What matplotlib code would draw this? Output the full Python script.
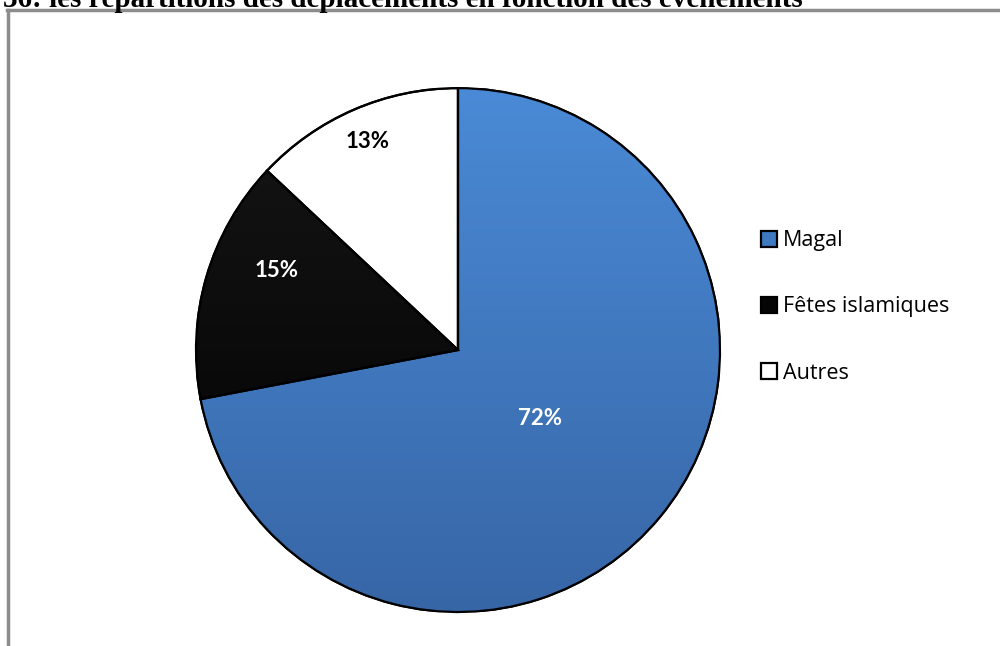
import matplotlib.pyplot as plt
import matplotlib.colors as mcolors
import numpy as np

# data
categories = ['Magal', 'Fêtes islamiques', 'Autres']
values = [72, 15, 13]
slice_colors = ['#3f79c2', '#050505', '#ffffff']
label_colors = ['white', 'white', 'black']
# label positions in pie units (radius 1)
label_xy = [(0.313, -0.26), (-0.691, 0.305), (-0.344, 0.798)]
title = '36: les répartitions des déplacements en fonction des événements'

fig = plt.figure(figsize=(10, 6.46), dpi=100)

# title, partly cut off at the top
fig.text(0.803, 0.989, title, fontsize=21, fontweight='bold',
         family='Liberation Serif', va='baseline', ha='right')

# grey frame of the original document box
fig.add_artist(plt.Line2D([0.0075, 0.0075], [0.0, 0.9845], color='#8c8c8c', lw=2.5))
fig.add_artist(plt.Line2D([0.0065, 1.0], [0.9845, 0.9845], color='#8c8c8c', lw=2.5))

ax = fig.add_axes([0.196, 0.0526, 0.524, 0.811])
wedges, _ = ax.pie(values, startangle=90, counterclock=False, colors=slice_colors,
                   wedgeprops=dict(edgecolor='black', linewidth=1.6))

# soft vertical gradient on the blue and black slices
grad = np.linspace(0, 1, 256).reshape(-1, 1)
blue_cmap = mcolors.LinearSegmentedColormap.from_list('b', ['#4a8ad6', '#3766a6'])
black_cmap = mcolors.LinearSegmentedColormap.from_list('k', ['#161616', '#000000'])
for w, cm in [(wedges[0], blue_cmap), (wedges[1], black_cmap)]:
    im = ax.imshow(grad, cmap=cm, extent=[-1, 1, -1, 1], origin='upper',
                   aspect='auto', zorder=w.get_zorder() + 0.1)
    im.set_clip_path(w)
for w in wedges:
    ax.add_patch(plt.matplotlib.patches.PathPatch(w.get_path(), transform=w.get_transform(),
                                                  fill=False, edgecolor='black', linewidth=1.6,
                                                  zorder=w.get_zorder() + 0.2))
ax.set_xlim(-1.0, 1.0)
ax.set_ylim(-1.0, 1.0)
ax.axis('off')

# percentage labels
for v, c, (x, y) in zip(values, label_colors, label_xy):
    ax.text(x, y, f'{v}%', ha='center', va='center',
            fontsize=16, fontweight='bold', family='Lato', color=c, zorder=10)

leg = fig.legend(wedges, categories, loc='center left', bbox_to_anchor=(0.761, 0.525),
                 frameon=False, prop=dict(family='Open Sans', size=15.5), labelspacing=2.1,
                 handlelength=0.75, handleheight=0.75, handletextpad=0.25, borderaxespad=0,
                 borderpad=0)

fig.savefig('out.png', dpi=100)
